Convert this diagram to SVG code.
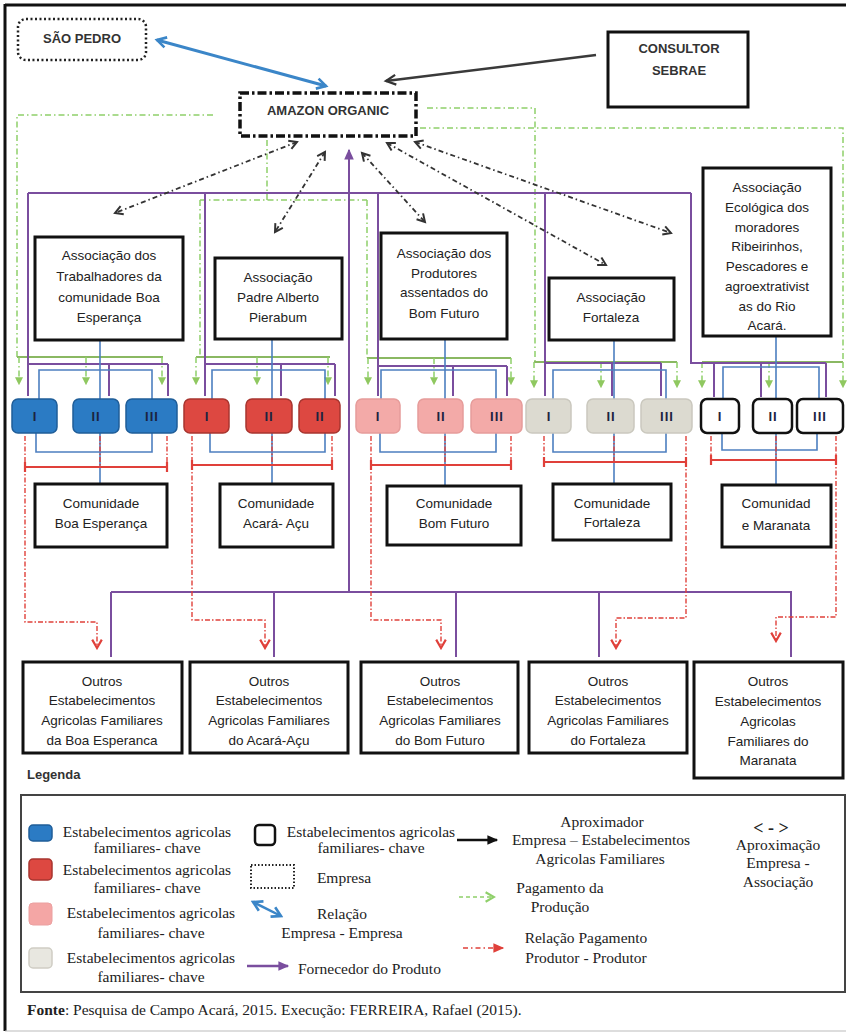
<svg xmlns="http://www.w3.org/2000/svg" width="848" height="1035" viewBox="0 0 848 1035">
<defs>
<style>
.t{font-family:"Liberation Sans",Arial,sans-serif;font-size:13.5px;fill:#222;text-anchor:middle}
.tb{font-family:"Liberation Sans",Arial,sans-serif;font-size:13px;font-weight:bold;fill:#333;text-anchor:middle}
.num{font-family:"Liberation Sans",Arial,sans-serif;font-size:13px;font-weight:bold;fill:#1b2440;text-anchor:middle;letter-spacing:1px}
.r{font-family:"Liberation Serif","Times New Roman",serif;font-size:15.5px;fill:#222}
.rm{font-family:"Liberation Serif","Times New Roman",serif;font-size:15.5px;fill:#222;text-anchor:middle}
.box{fill:#fff;stroke:#111;stroke-width:3}
.pur{fill:none;stroke:#7a4e9e;stroke-width:2}
.blu{fill:none;stroke:#4d7fc0;stroke-width:1.6}
.redh{fill:none;stroke:#e0403a;stroke-width:2.2}
.redd{fill:none;stroke:#e0403a;stroke-width:1.4;stroke-dasharray:5 2 1.5 2}
.grn{fill:none;stroke:#8fd06a;stroke-width:1.5;stroke-dasharray:6 3 1.5 3}
.grh{fill:none;stroke:#8ab862;stroke-width:2}
.apx{fill:none;stroke:#333;stroke-width:1.8;stroke-dasharray:5 3 1.5 3}
.k{fill:none;stroke:#3a3a3a;stroke-width:2.5}
</style>
<marker id="chev" viewBox="0 0 10 10" refX="8" refY="5" markerWidth="11" markerHeight="11" orient="auto-start-reverse" markerUnits="userSpaceOnUse"><path d="M1,1 L8,5 L1,9" fill="none" stroke="#333" stroke-width="1.8"/></marker>
<marker id="kchev" viewBox="0 0 10 10" refX="8" refY="5" markerWidth="14" markerHeight="14" orient="auto-start-reverse" markerUnits="userSpaceOnUse"><path d="M1,1.5 L8,5 L1,8.5" fill="none" stroke="#333" stroke-width="1.6"/></marker>
<marker id="redv" viewBox="0 0 10 10" refX="8" refY="5" markerWidth="12" markerHeight="12" orient="auto" markerUnits="userSpaceOnUse"><path d="M1,1 L8,5 L1,9" fill="none" stroke="#e0403a" stroke-width="1.8"/></marker>
<marker id="redf" viewBox="0 0 10 10" refX="8" refY="5" markerWidth="12" markerHeight="12" orient="auto" markerUnits="userSpaceOnUse"><path d="M0,1 L9,5 L0,9 z" fill="#e0403a"/></marker>
<marker id="grt" viewBox="0 0 10 10" refX="6" refY="5" markerWidth="8" markerHeight="8" orient="auto" markerUnits="userSpaceOnUse"><path d="M0,0 L10,5 L0,10 z" fill="#8fc860"/></marker>
<marker id="grv" viewBox="0 0 10 10" refX="8" refY="5" markerWidth="12" markerHeight="12" orient="auto" markerUnits="userSpaceOnUse"><path d="M1,1 L8,5 L1,9" fill="none" stroke="#8fd06a" stroke-width="1.8"/></marker>
<marker id="purA" viewBox="0 0 10 10" refX="8" refY="5" markerWidth="12" markerHeight="12" orient="auto" markerUnits="userSpaceOnUse"><path d="M0,1 L9,5 L0,9 z" fill="#7a4e9e"/></marker>
<marker id="bluA" viewBox="0 0 10 10" refX="8" refY="5" markerWidth="13" markerHeight="13" orient="auto-start-reverse" markerUnits="userSpaceOnUse"><path d="M1,1 L8,5 L1,9" fill="none" stroke="#3b86c8" stroke-width="2"/></marker>
<marker id="blkA" viewBox="0 0 10 10" refX="8" refY="5" markerWidth="12" markerHeight="12" orient="auto" markerUnits="userSpaceOnUse"><path d="M0,1 L9,5 L0,9 z" fill="#111"/></marker>
</defs>
<rect x="0" y="0" width="848" height="1035" fill="#fff"/>
<g id="frame">
<line x1="5" y1="5" x2="846" y2="5" stroke="#111" stroke-width="3"/>
<line x1="5" y1="4" x2="5" y2="1031" stroke="#111" stroke-width="3"/>
<line x1="5" y1="1031" x2="846" y2="1031" stroke="#bbb" stroke-width="1"/>
</g>
<g id="connectors">
<path class="grn" d="M213,115 H17 V357"/>
<path class="grn" d="M267,140 V200 M200,200 H367 M200,200 V357 M367,200 V358"/>
<path class="grn" d="M427,108 H535 V362"/>
<path class="grn" d="M420,128 H843 V362"/>
<path class="grh" d="M17,357 H163 M196,357 H330 M367,358 H511 M534,362 H677 M702,362 H843"/>
<path class="grn" marker-end="url(#grt)" d="M19,357 V382"/>
<path class="grn" marker-end="url(#grt)" d="M86,357 V382"/>
<path class="grn" marker-end="url(#grt)" d="M162,357 V382"/>
<path class="grn" marker-end="url(#grt)" d="M196,357 V382"/>
<path class="grn" marker-end="url(#grt)" d="M257,357 V382"/>
<path class="grn" marker-end="url(#grt)" d="M328,357 V382"/>
<path class="grn" marker-end="url(#grt)" d="M368,358 V382"/>
<path class="grn" marker-end="url(#grt)" d="M434,358 V382"/>
<path class="grn" marker-end="url(#grt)" d="M511,358 V382"/>
<path class="grn" marker-end="url(#grt)" d="M534,362 V385"/>
<path class="grn" marker-end="url(#grt)" d="M601,362 V385"/>
<path class="grn" marker-end="url(#grt)" d="M677,362 V385"/>
<path class="grn" marker-end="url(#grt)" d="M702,362 V385"/>
<path class="grn" marker-end="url(#grt)" d="M769,362 V385"/>
<path class="grn" marker-end="url(#grt)" d="M843,362 V385"/>
<path class="pur" d="M28,193 H691"/>
<path class="pur" d="M28,193 V396 M205,193 V396 M378,193 V396 M545,193 V396 M691,193 V363 H826"/>
<path class="pur" d="M28,364 H168 M109,364 V396 M168,364 V396"/>
<path class="pur" d="M205,364 H335 M281,364 V396 M335,364 V396"/>
<path class="pur" d="M378,366 H507 M453,366 V396 M507,366 V396"/>
<path class="pur" d="M545,363 H661 M612,363 V396 M661,363 V396"/>
<path class="pur" d="M714,363 V397 M761,363 V397 M826,363 V397"/>
<path class="pur" marker-end="url(#purA)" d="M349,592 V150"/>
<path class="pur" d="M111,592 H792 M111,592 V657 M274,592 V657 M456,592 V657 M599,592 V657 M791,592 V657"/>
<path class="blu" d="M100,340 V484 M39,400 V370 H152 V400 M36,433 V452 H152 V433"/>
<path class="blu" d="M272,339 V484 M212,400 V370 H325 V400 M210,433 V452 H325 V433"/>
<path class="blu" d="M445,339 V486 M381,400 V370 H496 V400 M380,433 V452 H496 V433"/>
<path class="blu" d="M614,340 V484 M553,400 V370 H666 V400 M553,433 V452 H666 V433"/>
<path class="blu" d="M776,336 V485 M723,400 V367 H819 V400 M722,433 V450 H817 V433"/>
<path class="redh" d="M25,467 H167 M25,462 V472 M167,462 V472"/>
<path class="redd" d="M25,436 V467 M100,436 V467 M167,436 V467"/>
<path class="redd" marker-end="url(#redv)" d="M25,467 V622 H97 V648"/>
<path class="redh" d="M192,465 H332 M192,460 V470 M332,460 V470"/>
<path class="redd" d="M192,436 V465 M272,436 V465 M332,436 V465"/>
<path class="redd" marker-end="url(#redv)" d="M192,465 V620 H265 V648"/>
<path class="redh" d="M371,465 H511 M371,460 V470 M511,460 V470"/>
<path class="redd" d="M371,436 V465 M445,436 V465 M511,436 V465"/>
<path class="redd" marker-end="url(#redv)" d="M371,465 V620 H441 V648"/>
<path class="redh" d="M544,462 H686 M544,457 V467 M686,457 V467"/>
<path class="redd" d="M544,436 V462 M614,436 V462 M686,436 V462"/>
<path class="redd" marker-end="url(#redv)" d="M686,462 V618 H616 V648"/>
<path class="redh" d="M711,460 H836 M711,455 V465 M836,455 V465"/>
<path class="redd" d="M711,436 V460 M776,436 V460 M836,436 V460"/>
<path class="redd" marker-end="url(#redv)" d="M836,460 V617 H776 V641"/>
<path class="apx" marker-start="url(#chev)" marker-end="url(#chev)" d="M297,142 L115,213"/>
<path class="apx" marker-start="url(#chev)" marker-end="url(#chev)" d="M325,152 L275,232"/>
<path class="apx" marker-start="url(#chev)" marker-end="url(#chev)" d="M362,153 L425,222"/>
<path class="apx" marker-start="url(#chev)" marker-end="url(#chev)" d="M387,143 L606,265"/>
<path class="apx" marker-start="url(#chev)" marker-end="url(#chev)" d="M415,142 L671,233"/>
<path fill="none" stroke="#3b86c8" stroke-width="3" marker-start="url(#bluA)" marker-end="url(#bluA)" d="M157,40 L326,86"/>
<path class="k" marker-end="url(#kchev)" d="M596,55 L386,81"/>
</g>
<g id="sao-pedro">
<rect x="18" y="19" width="128" height="41" rx="8" fill="#fff" stroke="#222" stroke-width="2.5" stroke-dasharray="2 2.5"/>
<text class="tb" x="82" y="43">SÃO PEDRO</text>
</g>
<g id="consultor-sebrae">
<rect class="box" x="608" y="32" width="140" height="75"/>
<text class="tb" x="679" y="53">CONSULTOR</text>
<text class="tb" x="679" y="75">SEBRAE</text>
</g>
<g id="amazon-organic">
<rect x="240" y="93" width="176" height="43" fill="#fff" stroke="#111" stroke-width="3.5" stroke-dasharray="9 3 2.5 3"/>
<text class="tb" x="328" y="115">AMAZON ORGANIC</text>
</g>
<g id="assoc-boa-esperanca">
<rect class="box" x="35" y="237" width="148" height="103"/>
<text class="t" x="109" y="260">Associação dos</text>
<text class="t" x="109" y="281">Trabalhadores da</text>
<text class="t" x="109" y="302">comunidade Boa</text>
<text class="t" x="109" y="322">Esperança</text>
</g>
<g id="assoc-padre-alberto">
<rect class="box" x="215" y="258" width="127" height="81"/>
<text class="t" x="278" y="282">Associação</text>
<text class="t" x="278" y="302">Padre Alberto</text>
<text class="t" x="278" y="322">Pierabum</text>
</g>
<g id="assoc-bom-futuro">
<rect class="box" x="381" y="233" width="126" height="106"/>
<text class="t" x="444" y="258">Associação dos</text>
<text class="t" x="444" y="278">Produtores</text>
<text class="t" x="444" y="297">assentados do</text>
<text class="t" x="444" y="318">Bom Futuro</text>
</g>
<g id="assoc-fortaleza">
<rect class="box" x="549" y="278" width="125" height="62"/>
<text class="t" x="611" y="302">Associação</text>
<text class="t" x="611" y="322">Fortaleza</text>
</g>
<g id="assoc-ecologica">
<rect class="box" x="703" y="168" width="128" height="168"/>
<text class="t" x="767" y="192">Associação</text>
<text class="t" x="767" y="212">Ecológica dos</text>
<text class="t" x="767" y="232">moradores</text>
<text class="t" x="767" y="251">Ribeirinhos,</text>
<text class="t" x="767" y="271">Pescadores e</text>
<text class="t" x="767" y="291">agroextrativist</text>
<text class="t" x="767" y="311">as do Rio</text>
<text class="t" x="767" y="330">Acará.</text>
</g>
<g id="estab-boa-esperanca">
<rect x="12" y="399" width="45" height="34" rx="6" fill="#2b7bc4" stroke="#1f5d98" stroke-width="1.5"/>
<rect x="73" y="399" width="46" height="34" rx="6" fill="#2b7bc4" stroke="#1f5d98" stroke-width="1.5"/>
<rect x="126" y="399" width="51" height="34" rx="6" fill="#2b7bc4" stroke="#1f5d98" stroke-width="1.5"/>
<text class="num" x="35" y="421">I</text>
<text class="num" x="96" y="421">II</text>
<text class="num" x="152" y="421">III</text>
</g>
<g id="estab-acara-acu">
<rect x="184" y="399" width="45" height="34" rx="6" fill="#dd4841" stroke="#a8352f" stroke-width="1.5"/>
<rect x="246" y="399" width="46" height="34" rx="6" fill="#dd4841" stroke="#a8352f" stroke-width="1.5"/>
<rect x="299" y="399" width="41" height="34" rx="6" fill="#dd4841" stroke="#a8352f" stroke-width="1.5"/>
<text class="num" x="207" y="421">I</text>
<text class="num" x="269" y="421">II</text>
<text class="num" x="320" y="421">II</text>
</g>
<g id="estab-bom-futuro">
<rect x="356" y="399" width="44" height="34" rx="6" fill="#f3aaa8" stroke="#e69c9a" stroke-width="1.5"/>
<rect x="418" y="399" width="45" height="34" rx="6" fill="#f3aaa8" stroke="#e69c9a" stroke-width="1.5"/>
<rect x="471" y="399" width="51" height="34" rx="6" fill="#f3aaa8" stroke="#e69c9a" stroke-width="1.5"/>
<text class="num" x="378" y="421">I</text>
<text class="num" x="441" y="421">II</text>
<text class="num" x="497" y="421">III</text>
</g>
<g id="estab-fortaleza">
<rect x="526" y="399" width="45" height="34" rx="6" fill="#dcdad0" stroke="#cac8be" stroke-width="1.5"/>
<rect x="587" y="399" width="47" height="34" rx="6" fill="#dcdad0" stroke="#cac8be" stroke-width="1.5"/>
<rect x="641" y="399" width="51" height="34" rx="6" fill="#dcdad0" stroke="#cac8be" stroke-width="1.5"/>
<text class="num" x="549" y="421">I</text>
<text class="num" x="611" y="421">II</text>
<text class="num" x="667" y="421">III</text>
</g>
<g id="estab-maranata">
<rect x="701" y="399" width="38" height="34" rx="6" fill="#fff" stroke="#111" stroke-width="2.5"/>
<rect x="753" y="399" width="39" height="34" rx="6" fill="#fff" stroke="#111" stroke-width="2.5"/>
<rect x="797" y="399" width="46" height="34" rx="6" fill="#fff" stroke="#111" stroke-width="2.5"/>
<text class="num" x="720" y="421">I</text>
<text class="num" x="773" y="421">II</text>
<text class="num" x="820" y="421">III</text>
</g>
<g id="com-boa-esperanca">
<rect class="box" x="35" y="484" width="132" height="63"/>
<text class="t" x="101" y="508">Comunidade</text>
<text class="t" x="101" y="528">Boa Esperança</text>
</g>
<g id="com-acara-acu">
<rect class="box" x="220" y="484" width="113" height="63"/>
<text class="t" x="276" y="508">Comunidade</text>
<text class="t" x="276" y="528">Acará- Açu</text>
</g>
<g id="com-bom-futuro">
<rect class="box" x="387" y="486" width="134" height="59"/>
<text class="t" x="454" y="508">Comunidade</text>
<text class="t" x="454" y="528">Bom Futuro</text>
</g>
<g id="com-fortaleza">
<rect class="box" x="553" y="484" width="118" height="56"/>
<text class="t" x="612" y="508">Comunidade</text>
<text class="t" x="612" y="527">Fortaleza</text>
</g>
<g id="com-maranata">
<rect class="box" x="722" y="485" width="109" height="62"/>
<text class="t" x="776" y="508">Comunidad</text>
<text class="t" x="776" y="530">e Maranata</text>
</g>
<g id="outros-boa-esperanca">
<rect class="box" x="23" y="662" width="159" height="91"/>
<text class="t" x="102" y="686">Outros</text>
<text class="t" x="102" y="705">Estabelecimentos</text>
<text class="t" x="102" y="725">Agricolas Familiares</text>
<text class="t" x="102" y="745">da Boa Esperanca</text>
</g>
<g id="outros-acara-acu">
<rect class="box" x="190" y="662" width="158" height="91"/>
<text class="t" x="269" y="686">Outros</text>
<text class="t" x="269" y="705">Estabelecimentos</text>
<text class="t" x="269" y="725">Agricolas Familiares</text>
<text class="t" x="269" y="745">do Acará-Açu</text>
</g>
<g id="outros-bom-futuro">
<rect class="box" x="361" y="662" width="157" height="91"/>
<text class="t" x="440" y="686">Outros</text>
<text class="t" x="440" y="705">Estabelecimentos</text>
<text class="t" x="440" y="725">Agricolas Familiares</text>
<text class="t" x="440" y="745">do Bom Futuro</text>
</g>
<g id="outros-fortaleza">
<rect class="box" x="529" y="662" width="158" height="91"/>
<text class="t" x="608" y="686">Outros</text>
<text class="t" x="608" y="705">Estabelecimentos</text>
<text class="t" x="608" y="725">Agricolas Familiares</text>
<text class="t" x="608" y="745">do Fortaleza</text>
</g>
<g id="outros-maranata">
<rect class="box" x="694" y="662" width="149" height="116"/>
<text class="t" x="768" y="686">Outros</text>
<text class="t" x="768" y="706">Estabelecimentos</text>
<text class="t" x="768" y="726">Agricolas</text>
<text class="t" x="768" y="746">Familiares do</text>
<text class="t" x="768" y="765">Maranata</text>
</g>
<g id="legend">
<text x="27" y="779" style="font-family:'Liberation Sans',Arial,sans-serif;font-size:13px;font-weight:bold;fill:#333">Legenda</text>
<rect x="21" y="795" width="824" height="197" fill="none" stroke="#444" stroke-width="2"/>
<rect x="29" y="825" width="23" height="16" rx="4" fill="#2b7bc4" stroke="#1f5d98" stroke-width="1.5"/>
<text class="rm" x="147" y="837">Estabelecimentos agricolas</text>
<text class="rm" x="147" y="853">familiares- chave</text>
<rect x="29" y="859" width="23" height="21" rx="4" fill="#dd4841" stroke="#a8352f" stroke-width="1.5"/>
<text class="rm" x="147" y="875">Estabelecimentos agricolas</text>
<text class="rm" x="147" y="893">familiares- chave</text>
<rect x="29" y="903" width="23" height="22" rx="4" fill="#f4a6a5" stroke="#eba0a0" stroke-width="1"/>
<text class="rm" x="151" y="918">Estabelecimentos agricolas</text>
<text class="rm" x="151" y="938">familiares- chave</text>
<rect x="29" y="948" width="23" height="20" rx="4" fill="#e8e7e0" stroke="#cfcdc4" stroke-width="1.5"/>
<text class="rm" x="151" y="963">Estabelecimentos agricolas</text>
<text class="rm" x="151" y="982">familiares- chave</text>
<rect x="255" y="825" width="20" height="20" rx="4" fill="#fff" stroke="#111" stroke-width="2.5"/>
<text class="rm" x="371" y="837">Estabelecimentos agricolas</text>
<text class="rm" x="371" y="853">familiares- chave</text>
<rect x="251" y="865" width="43" height="23" fill="none" stroke="#222" stroke-width="2" stroke-dasharray="1.5 2"/>
<text class="rm" x="344" y="883">Empresa</text>
<path fill="none" stroke="#3b86c8" stroke-width="2.5" marker-start="url(#bluA)" marker-end="url(#bluA)" d="M253,902 L281,916"/>
<text class="rm" x="342" y="919">Relação</text>
<text class="rm" x="342" y="938">Empresa - Empresa</text>
<path fill="none" stroke="#7a4e9e" stroke-width="2.5" marker-end="url(#purA)" d="M247,966 H288"/>
<text class="r" x="298" y="974">Fornecedor do Produto</text>
<path fill="none" stroke="#111" stroke-width="2.5" marker-end="url(#blkA)" d="M457,840 H497"/>
<text class="rm" x="602" y="827">Aproximador</text>
<text class="rm" x="601" y="845">Empresa – Estabelecimentos</text>
<text class="rm" x="600" y="864">Agricolas Familiares</text>
<path fill="none" stroke="#8fd06a" stroke-width="1.6" stroke-dasharray="4 3" marker-end="url(#grv)" d="M459,897 H494"/>
<text class="rm" x="560" y="893">Pagamento da</text>
<text class="rm" x="560" y="912">Produção</text>
<path fill="none" stroke="#e0403a" stroke-width="1.6" stroke-dasharray="5 3 1.5 3" marker-end="url(#redf)" d="M463,948 H503"/>
<text class="rm" x="586" y="943">Relação Pagamento</text>
<text class="rm" x="586" y="963">Produtor - Produtor</text>
<text class="rm" x="771" y="834" style="font-size:18px;font-weight:bold">&lt; - &gt;</text>
<text class="rm" x="778" y="850">Aproximação</text>
<text class="rm" x="778" y="868">Empresa -</text>
<text class="rm" x="778" y="887">Associação</text>
</g>
<g id="fonte">
<text class="r" x="27" y="1015"><tspan font-weight="bold">Fonte</tspan>: Pesquisa de Campo Acará, 2015. Execução: FERREIRA, Rafael (2015).</text>
</g>
</svg>
